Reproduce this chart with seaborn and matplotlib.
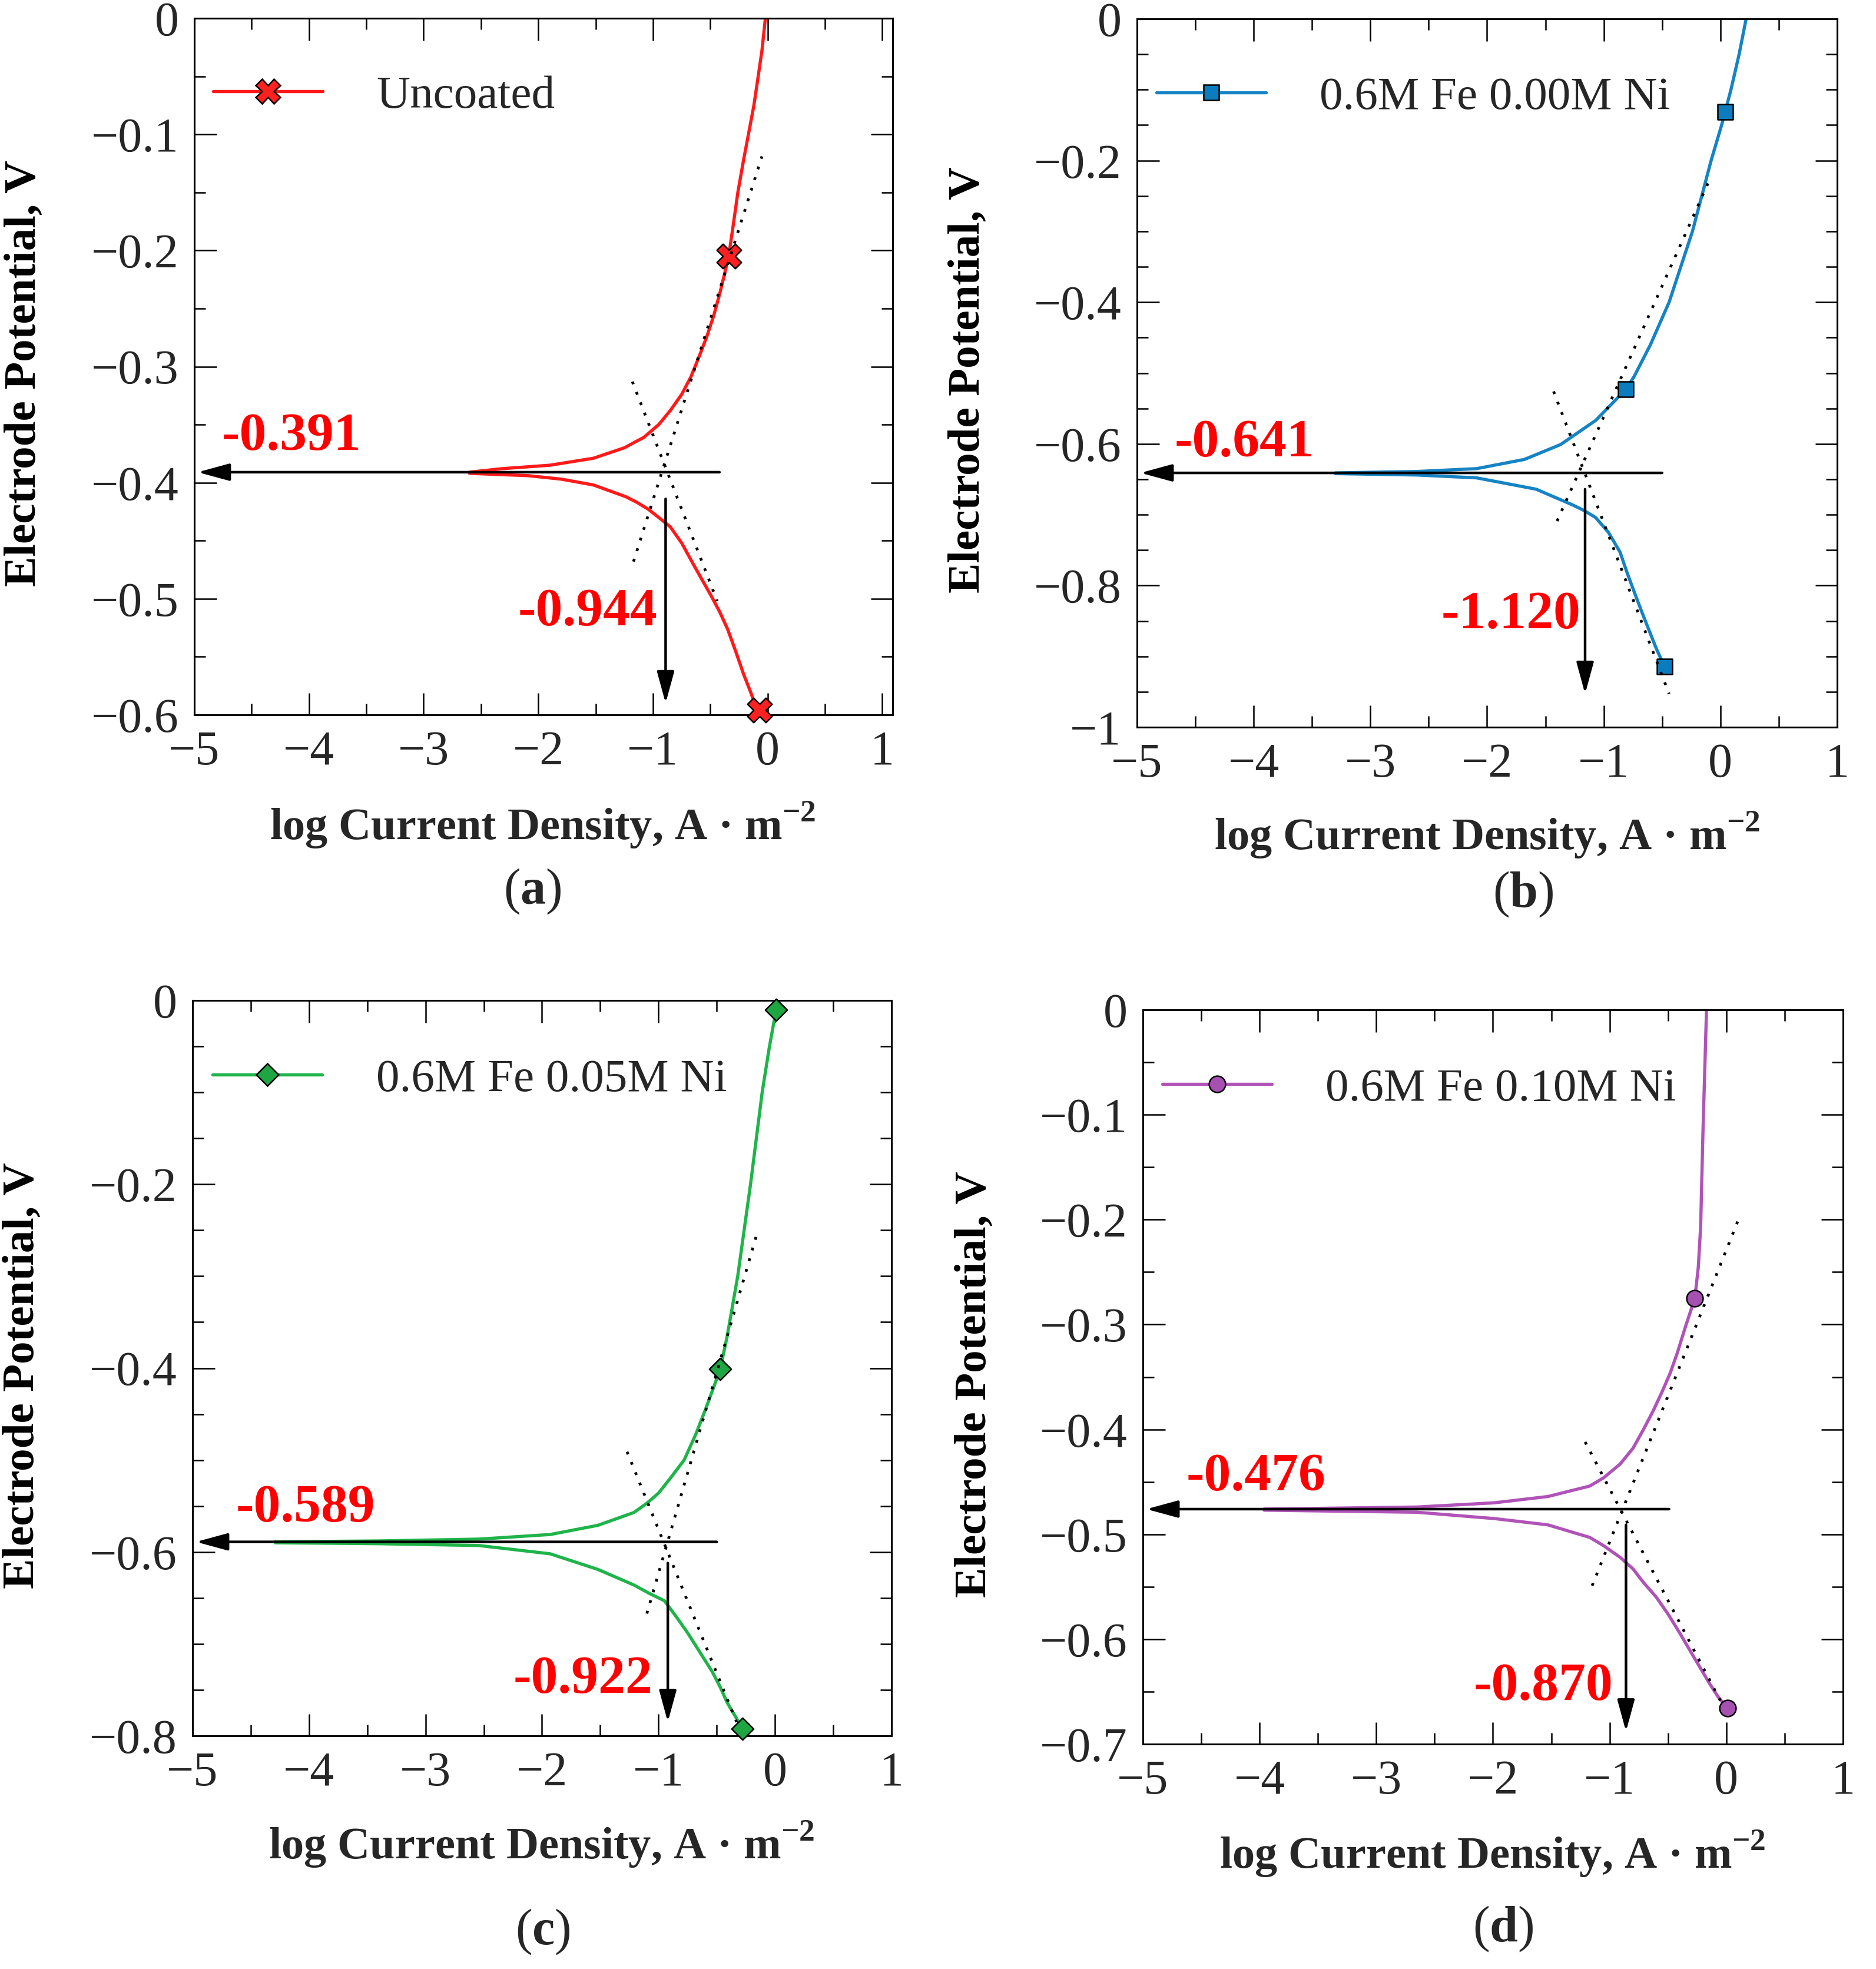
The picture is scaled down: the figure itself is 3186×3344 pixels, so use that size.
import numpy as np
import pandas as pd
import matplotlib
matplotlib.use("Agg")
import matplotlib.pyplot as plt
from matplotlib.lines import Line2D
from matplotlib.ticker import MultipleLocator, FuncFormatter
import seaborn as sns

# ---- data ----
# (a) uncoated
a_up_x = [-2.6, -2.32, -1.9, -1.52, -1.25, -1.08, -0.95, -0.85, -0.75, -0.67, -0.60, -0.53, -0.47, -0.42, -0.38, -0.34, -0.30, -0.26, -0.21, -0.16, -0.12, -0.09, -0.05, -0.02]
a_up_y = [-0.391, -0.388, -0.385, -0.379, -0.370, -0.361, -0.350, -0.338, -0.324, -0.309, -0.292, -0.274, -0.256, -0.238, -0.222, -0.205, -0.178, -0.150, -0.122, -0.096, -0.075, -0.055, -0.028, 0.0]
a_lo_x = [-2.6, -2.09, -1.8, -1.52, -1.24, -1.14, -1.04, -0.95, -0.85, -0.75, -0.65, -0.57, -0.49, -0.42, -0.35, -0.28, -0.21, -0.15, -0.10, -0.06]
a_lo_y = [-0.392, -0.394, -0.397, -0.402, -0.412, -0.417, -0.423, -0.430, -0.438, -0.452, -0.470, -0.484, -0.498, -0.511, -0.526, -0.545, -0.565, -0.580, -0.594, -0.600]
a_mk_x = [-0.34, -0.07]
a_mk_y = [-0.205, -0.596]
a_tan_an = ([-1.17, -0.05], [-0.468, -0.119])
a_tan_ca = ([-1.18, -0.44], [-0.313, -0.502])

# (b) 0.6M Fe 0.00M Ni
b_up_x = [-3.3, -2.6, -2.09, -1.68, -1.37, -1.07, -0.81, -0.74, -0.60, -0.44, -0.34, -0.24, -0.16, -0.08, 0.01, 0.09, 0.16, 0.22]
b_up_y = [-0.641, -0.639, -0.635, -0.622, -0.601, -0.567, -0.523, -0.505, -0.460, -0.400, -0.350, -0.300, -0.250, -0.200, -0.150, -0.100, -0.050, 0.0]
b_lo_x = [-3.3, -2.6, -2.09, -1.58, -1.27, -1.17, -1.07, -0.96, -0.86, -0.80, -0.73, -0.67, -0.61, -0.55, -0.48]
b_lo_y = [-0.642, -0.644, -0.648, -0.664, -0.686, -0.694, -0.704, -0.725, -0.753, -0.782, -0.813, -0.839, -0.864, -0.889, -0.914]
b_mk_x = [-0.81, 0.04, -0.48]
b_mk_y = [-0.523, -0.131, -0.914]
b_tan_an = ([-1.40, -0.09], [-0.709, -0.226])
b_tan_ca = ([-1.43, -0.44], [-0.526, -0.953])

# (c) 0.6M Fe 0.05M Ni
c_up_x = [-4.29, -3.4, -2.54, -1.93, -1.52, -1.21, -1.1, -1.0, -0.90, -0.78, -0.68, -0.60, -0.53, -0.47, -0.41, -0.32, -0.21, -0.11, -0.05, 0.01]
c_up_y = [-0.589, -0.588, -0.586, -0.581, -0.571, -0.557, -0.547, -0.536, -0.520, -0.500, -0.472, -0.446, -0.422, -0.401, -0.365, -0.300, -0.200, -0.100, -0.052, -0.010]
c_lo_x = [-4.29, -3.4, -2.54, -1.93, -1.52, -1.21, -1.08, -0.95, -0.85, -0.75, -0.65, -0.54, -0.47, -0.41, -0.34, -0.28]
c_lo_y = [-0.590, -0.591, -0.593, -0.602, -0.619, -0.636, -0.645, -0.653, -0.670, -0.688, -0.708, -0.730, -0.747, -0.764, -0.779, -0.792]
c_mk_x = [-0.47, 0.01, -0.28]
c_mk_y = [-0.401, -0.010, -0.792]
c_tan_an = ([-1.10, -0.16], [-0.667, -0.256])
c_tan_ca = ([-1.27, -0.33], [-0.491, -0.785])

# (d) 0.6M Fe 0.10M Ni
d_up_x = [-3.96, -2.65, -1.99, -1.53, -1.17, -1.05, -0.91, -0.80, -0.71, -0.63, -0.55, -0.48, -0.42, -0.35, -0.27, -0.24, -0.22, -0.21, -0.20, -0.17]
d_up_y = [-0.476, -0.474, -0.470, -0.464, -0.454, -0.446, -0.433, -0.418, -0.400, -0.383, -0.364, -0.346, -0.327, -0.302, -0.275, -0.245, -0.206, -0.160, -0.115, 0.0]
d_lo_x = [-3.96, -2.65, -1.99, -1.53, -1.17, -1.05, -0.91, -0.80, -0.71, -0.60, -0.50, -0.40, -0.30, -0.22, -0.14, -0.07, 0.01]
d_lo_y = [-0.477, -0.479, -0.485, -0.491, -0.503, -0.511, -0.522, -0.533, -0.546, -0.560, -0.576, -0.594, -0.613, -0.628, -0.643, -0.655, -0.666]
d_mk_x = [-0.27, 0.01]
d_mk_y = [-0.275, -0.666]
d_tan_an = ([-1.15, 0.10], [-0.549, -0.201])
d_tan_ca = ([-1.21, -0.04], [-0.412, -0.661])

labels = ["Uncoated", "0.6M Fe 0.00M Ni", "0.6M Fe 0.05M Ni", "0.6M Fe 0.10M Ni"]
e_corr = [-0.391, -0.641, -0.589, -0.476]
log_icorr = [-0.944, -1.120, -0.922, -0.870]
e_corr_txt = ["-0.391", "-0.641", "-0.589", "-0.476"]
icorr_txt = ["-0.944", "-1.120", "-0.922", "-0.870"]
# arrow geometry: right end of horizontal arrow, x of vertical arrow, its start and tip
h_arrow_from = [-0.42, -0.50, -0.50, -0.49]
v_arrow_x = [-0.89, -1.16, -0.92, -0.86]
v_arrow_y = [(-0.414, -0.590), (-0.664, -0.953), (-0.612, -0.785), (-0.491, -0.688)]

# ---- style ----
sns.set_theme(style="ticks")
plt.rcParams["font.family"] = ["Liberation Serif", "DejaVu Serif"]
plt.rcParams["mathtext.fontset"] = "custom"
plt.rcParams["mathtext.rm"] = "Liberation Serif"
plt.rcParams["mathtext.bf"] = "Liberation Serif:bold"
plt.rcParams["axes.linewidth"] = 2.2

W, H = 3186, 3344
fig = plt.figure(figsize=(W / 100, H / 100), dpi=100)

# axes boxes in pixels: left, top, right, bottom
boxes = [(330, 31, 1516, 1214), (1931, 32, 3120, 1235),
         (327, 1699, 1514, 2948), (1941, 1715, 3130, 2962)]
xmax = [1.09, 1.0, 1.0, 1.0]
ylims = [(-0.6, 0), (-1.0, 0), (-0.8, 0), (-0.7, 0)]
ymajor = [0.1, 0.2, 0.2, 0.1]
colors = ["#ff1a1a", "#1583c4", "#1fb44a", "#b053b8"]
mfaces = ["#ff2020", "#0b7dbf", "#1ea642", "#a650b2"]
markers = ["X", "s", "D", "o"]
msizes = [30, 19, 19, 20]
leg_pos = [(0.027, 0.888), (0.028, 0.889), (0.029, 0.892), (0.028, 0.892)]
ylab_x = [-0.214, -0.212, -0.214, -0.211]
e_txt_pos = [(-4.76, -0.372), (-4.68, -0.618), (-4.63, -0.567), (-4.63, -0.458)]
i_txt_pos = [(-0.96, -0.523), (-1.20, -0.860), (-1.05, -0.753), (-0.97, -0.658)]
xlab_pos = [(922, 1426), (2526, 1443), (920, 3157), (2535, 3173)]
sub_pos = [(904, 1535), (2587, 1540), (922, 3302), (2553, 3297)]
sub_txt = ["($\\mathbf{a}$)", "($\\mathbf{b}$)", "($\\mathbf{c}$)", "($\\mathbf{d}$)"]

panels = [
    (a_up_x, a_up_y, a_lo_x, a_lo_y, a_mk_x, a_mk_y, a_tan_an, a_tan_ca),
    (b_up_x, b_up_y, b_lo_x, b_lo_y, b_mk_x, b_mk_y, b_tan_an, b_tan_ca),
    (c_up_x, c_up_y, c_lo_x, c_lo_y, c_mk_x, c_mk_y, c_tan_an, c_tan_ca),
    (d_up_x, d_up_y, d_lo_x, d_lo_y, d_mk_x, d_mk_y, d_tan_an, d_tan_ca),
]

minus_fmt = FuncFormatter(lambda v, p: ("%g" % round(v, 3)).replace("-", "\u2212"))

for i, (ux, uy, lx, ly, mx, my, tan_an, tan_ca) in enumerate(panels):
    l, t, r, b = boxes[i]
    ax = fig.add_axes([l / W, 1 - b / H, (r - l) / W, (b - t) / H])
    col = colors[i]

    df_up = pd.DataFrame({"x": ux, "y": uy})
    df_lo = pd.DataFrame({"x": lx, "y": ly})
    for df in (df_up, df_lo):
        sns.lineplot(data=df, x="x", y="y", ax=ax, color=col, lw=3.9, sort=False,
                     estimator=None, zorder=2)
        ax.lines[-1].set_solid_joinstyle("round")
    sns.scatterplot(x=mx, y=my, ax=ax, marker=markers[i], s=msizes[i] ** 2, color=mfaces[i],
                    edgecolor="black", linewidth=1.8, zorder=3, clip_on=False)

    for tx, ty in (tan_an, tan_ca):
        sns.lineplot(x=tx, y=ty, ax=ax, color="black", lw=3.4, linestyle=(0, (1, 3.0)),
                     sort=False, estimator=None, zorder=4)

    arrow_kw = dict(arrowstyle="-|>,head_length=33,head_width=9", color="black", lw=3.2,
                    shrinkA=0, shrinkB=0, mutation_scale=1)
    ax.annotate("", xy=(-4.97, e_corr[i]), xytext=(h_arrow_from[i], e_corr[i]),
                arrowprops=arrow_kw, zorder=5)
    ax.annotate("", xy=(v_arrow_x[i], v_arrow_y[i][1]), xytext=(v_arrow_x[i], v_arrow_y[i][0]),
                arrowprops=arrow_kw, zorder=5)

    ax.text(*e_txt_pos[i], e_corr_txt[i], color="#ff0000", fontsize=66, fontweight="bold",
            ha="left", va="baseline", zorder=6)
    ax.text(*i_txt_pos[i], icorr_txt[i], color="#ff0000", fontsize=66, fontweight="bold",
            ha="right", va="baseline", zorder=6)

    ax.set_xlim(-5, xmax[i])
    ax.set_ylim(*ylims[i])
    ax.xaxis.set_major_locator(MultipleLocator(1))
    ax.xaxis.set_minor_locator(MultipleLocator(0.5))
    ax.yaxis.set_major_locator(MultipleLocator(ymajor[i]))
    ax.yaxis.set_minor_locator(MultipleLocator(0.05))
    ax.tick_params(which="both", direction="in", top=True, right=True, width=1.8, color="black")
    ax.tick_params(which="major", length=27, labelsize=59, pad=19)
    ax.tick_params(which="minor", length=14)
    ax.xaxis.set_major_formatter(minus_fmt)
    ax.yaxis.set_major_formatter(minus_fmt)
    for s in ax.spines.values():
        s.set_color("black")
        s.set_linewidth(2.2)

    ax.set_xlabel("")
    ax.set_ylabel("Electrode Potential, V", fontsize=55.5, fontweight="bold", color="black")
    ax.yaxis.set_label_coords(ylab_x[i], 0.49)

    handle = Line2D([0], [0], color=col, lw=3.9, marker=markers[i], markersize=msizes[i],
                    markerfacecolor=mfaces[i], markeredgecolor="black", markeredgewidth=1.8)
    ax.legend([handle], [labels[i]], loc="center left", bbox_to_anchor=leg_pos[i],
              frameon=False, fontsize=57, borderpad=0, borderaxespad=0,
              handlelength=2.35, handletextpad=1.15)

    fig.text(xlab_pos[i][0] / W, 1 - xlab_pos[i][1] / H,
             "log Current Density, A \u00b7 m$^{\\mathbf{-2}}$",
             fontsize=55, fontweight="bold", ha="center", va="baseline")
    fig.text(sub_pos[i][0] / W, 1 - sub_pos[i][1] / H, sub_txt[i],
             fontsize=62, ha="center", va="baseline")

fig.savefig("out.png", dpi=100, facecolor="white")
